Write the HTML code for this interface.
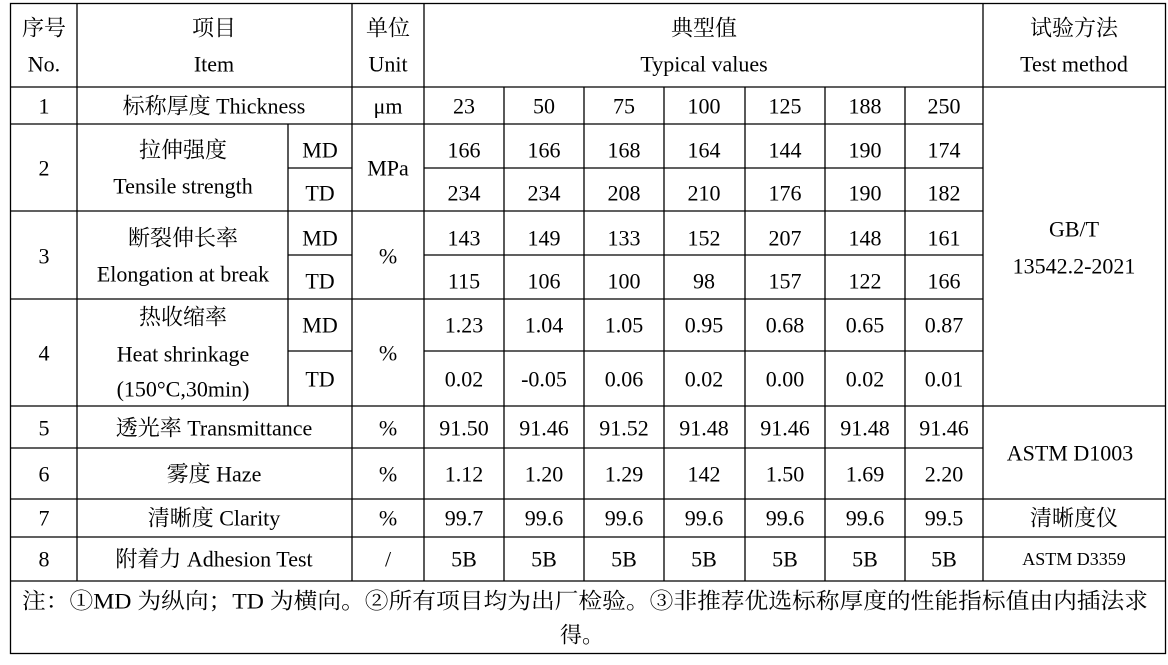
<!DOCTYPE html>
<html><head><meta charset="utf-8"><style>
html,body{margin:0;padding:0;background:#fff;}
svg text{font-family:"Liberation Serif","Noto Serif CJK SC",serif;font-size:22px;fill:#000;text-anchor:middle;dominant-baseline:central;}
</style></head><body>
<svg width="1168" height="660" viewBox="0 0 1168 660" xmlns="http://www.w3.org/2000/svg">
<g stroke="#000" stroke-width="1.3" fill="none">
<rect x="10.5" y="3.5" width="1155" height="650"/>
<line x1="10" y1="87" x2="1166" y2="87"/>
<line x1="10" y1="124" x2="983" y2="124"/>
<line x1="288" y1="168" x2="352" y2="168"/><line x1="424" y1="168" x2="983" y2="168"/>
<line x1="10" y1="211" x2="983" y2="211"/>
<line x1="288" y1="255" x2="352" y2="255"/><line x1="424" y1="255" x2="983" y2="255"/>
<line x1="10" y1="299" x2="983" y2="299"/>
<line x1="288" y1="351" x2="352" y2="351"/><line x1="424" y1="351" x2="983" y2="351"/>
<line x1="10" y1="406" x2="1166" y2="406"/>
<line x1="10" y1="448" x2="983" y2="448"/>
<line x1="10" y1="499" x2="1166" y2="499"/>
<line x1="10" y1="537" x2="1166" y2="537"/>
<line x1="10" y1="581" x2="1166" y2="581"/>
<line x1="77" y1="3" x2="77" y2="581"/>
<line x1="288" y1="124" x2="288" y2="406"/>
<line x1="352" y1="3" x2="352" y2="581"/>
<line x1="424" y1="3" x2="424" y2="581"/>
<line x1="504" y1="87" x2="504" y2="581"/>
<line x1="584" y1="87" x2="584" y2="581"/>
<line x1="664" y1="87" x2="664" y2="581"/>
<line x1="745" y1="87" x2="745" y2="581"/>
<line x1="825" y1="87" x2="825" y2="581"/>
<line x1="905" y1="87" x2="905" y2="581"/>
<line x1="983" y1="3" x2="983" y2="581"/>
</g>
<text x="44" y="28">序号</text><text x="44" y="64">No.</text>
<text x="214" y="28">项目</text><text x="214" y="64">Item</text>
<text x="388" y="28">单位</text><text x="388" y="64">Unit</text>
<text x="704" y="28">典型值</text><text x="704" y="64">Typical values</text>
<text x="1074" y="28">试验方法</text><text x="1074" y="64">Test method</text>

<text x="44" y="106">1</text><text x="214" y="106">标称厚度 Thickness</text><text x="388" y="106">μm</text>
<text x="464" y="106">23</text><text x="544" y="106">50</text><text x="624" y="106">75</text><text x="704" y="106">100</text><text x="785" y="106">125</text><text x="865" y="106">188</text><text x="944" y="106">250</text>

<text x="44" y="168">2</text><text x="183" y="150">拉伸强度</text><text x="183" y="186">Tensile strength</text>
<text x="320" y="150">MD</text><text x="320" y="193">TD</text><text x="388" y="168">MPa</text>
<text x="464" y="150">166</text><text x="544" y="150">166</text><text x="624" y="150">168</text><text x="704" y="150">164</text><text x="785" y="150">144</text><text x="865" y="150">190</text><text x="944" y="150">174</text>
<text x="464" y="193">234</text><text x="544" y="193">234</text><text x="624" y="193">208</text><text x="704" y="193">210</text><text x="785" y="193">176</text><text x="865" y="193">190</text><text x="944" y="193">182</text>

<text x="44" y="256">3</text><text x="183" y="238">断裂伸长率</text><text x="183" y="274">Elongation at break</text>
<text x="320" y="238">MD</text><text x="320" y="281">TD</text><text x="388" y="256">%</text>
<text x="464" y="238">143</text><text x="544" y="238">149</text><text x="624" y="238">133</text><text x="704" y="238">152</text><text x="785" y="238">207</text><text x="865" y="238">148</text><text x="944" y="238">161</text>
<text x="464" y="281">115</text><text x="544" y="281">106</text><text x="624" y="281">100</text><text x="704" y="281">98</text><text x="785" y="281">157</text><text x="865" y="281">122</text><text x="944" y="281">166</text>
<text x="1074" y="229">GB/T</text><text x="1074" y="266">13542.2-2021</text>

<text x="44" y="353">4</text><text x="183" y="317">热收缩率</text><text x="183" y="354">Heat shrinkage</text><text x="183" y="389">(150°C,30min)</text>
<text x="320" y="325">MD</text><text x="320" y="379">TD</text><text x="388" y="353">%</text>
<text x="464" y="325">1.23</text><text x="544" y="325">1.04</text><text x="624" y="325">1.05</text><text x="704" y="325">0.95</text><text x="785" y="325">0.68</text><text x="865" y="325">0.65</text><text x="944" y="325">0.87</text>
<text x="464" y="379">0.02</text><text x="544" y="379">-0.05</text><text x="624" y="379">0.06</text><text x="704" y="379">0.02</text><text x="785" y="379">0.00</text><text x="865" y="379">0.02</text><text x="944" y="379">0.01</text>

<text x="44" y="428">5</text><text x="214" y="428">透光率  Transmittance</text><text x="388" y="428">%</text>
<text x="464" y="428">91.50</text><text x="544" y="428">91.46</text><text x="624" y="428">91.52</text><text x="704" y="428">91.48</text><text x="785" y="428">91.46</text><text x="865" y="428">91.48</text><text x="944" y="428">91.46</text>
<text x="1070" y="453">ASTM D1003</text>

<text x="44" y="474">6</text><text x="214" y="474">雾度 Haze</text><text x="388" y="474">%</text>
<text x="464" y="474">1.12</text><text x="544" y="474">1.20</text><text x="624" y="474">1.29</text><text x="704" y="474">142</text><text x="785" y="474">1.50</text><text x="865" y="474">1.69</text><text x="944" y="474">2.20</text>

<text x="44" y="518">7</text><text x="214" y="518">清晰度 Clarity</text><text x="388" y="518">%</text>
<text x="464" y="518">99.7</text><text x="544" y="518">99.6</text><text x="624" y="518">99.6</text><text x="704" y="518">99.6</text><text x="785" y="518">99.6</text><text x="865" y="518">99.6</text><text x="944" y="518">99.5</text>
<text x="1074" y="518">清晰度仪</text>

<text x="44" y="559">8</text><text x="214" y="559">附着力 Adhesion Test</text><text x="388" y="559">/</text>
<text x="464" y="559">5B</text><text x="544" y="559">5B</text><text x="624" y="559">5B</text><text x="704" y="559">5B</text><text x="785" y="559">5B</text><text x="865" y="559">5B</text><text x="944" y="559">5B</text>
<text x="1074" y="559" style="font-size:18px">ASTM D3359</text>

<text x="22" y="601" style="text-anchor:start" textLength="1126" lengthAdjust="spacingAndGlyphs">注：①MD 为纵向；TD 为横向。②所有项目均为出厂检验。③非推荐优选标称厚度的性能指标值由内插法求</text>
<text x="582" y="635">得。</text>
</svg>
</body></html>
